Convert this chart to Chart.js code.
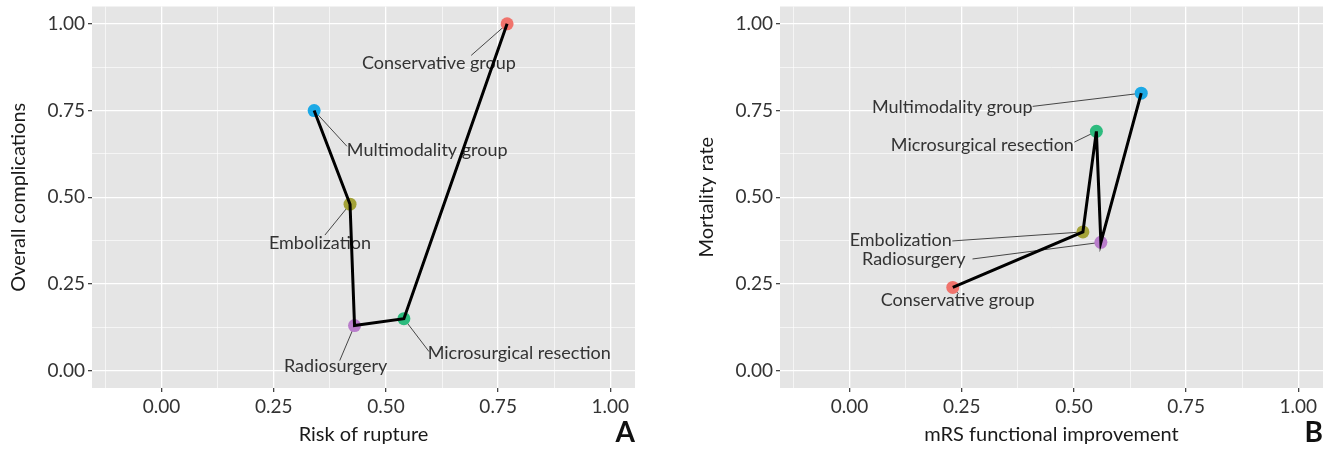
<!DOCTYPE html>
<html>
<head>
<meta charset="utf-8">
<script src="https://cdn.jsdelivr.net/npm/chart.js@4.4.1/dist/chart.umd.min.js"></script>
<style>
  html, body { margin: 0; padding: 0; background: #fff; }
  #wrap { position: relative; width: 1338px; height: 452px; }
  canvas { position: absolute; top: 0; }
  #chartA { left: 0; }
  #chartB { left: 680px; }
</style>
</head>
<body>
<div id="wrap">
  <canvas id="chartA" width="660" height="452"></canvas>
  <canvas id="chartB" width="658" height="452"></canvas>
</div>
<script>
/* Two panels: complications vs rupture, mortality vs mRS */

const groups = ['Conservative group', 'Embolization', 'Microsurgical resection', 'Multimodality group', 'Radiosurgery']
const groupColors = ['#F0736C', '#A3A238', '#2DBB7E', '#1CA9E6', '#B97DCB']

// panel A
const ruptureRisk = [0.77, 0.42, 0.54, 0.34, 0.43]
const complications = [1.00, 0.48, 0.15, 0.75, 0.13]

// panel B
const mrsImprovement = [0.23, 0.52, 0.55, 0.65, 0.56]
const mortality = [0.24, 0.40, 0.69, 0.80, 0.37]

const majorTicks = [0, 0.25, 0.5, 0.75, 1]
const tickLabels = ['0.00', '0.25', '0.50', '0.75', '1.00']
const minorTicksX = [-0.125, 0.125, 0.375, 0.625, 0.875]
const minorTicksY = [0.125, 0.375, 0.625, 0.875]

// repelled label centres and leader ends (data units)
const labelAtA = [[0.618, 0.886], [0.353, 0.368], [0.797, 0.049], [0.592, 0.636], [0.388, 0.012]]
const leaderToA = [[0.690, 0.909], [0.364, 0.391], [0.596, 0.055], [0.413, 0.647], [0.397, 0.029]]
const labelAtB = [[0.241, 0.204], [0.114, 0.377], [0.296, 0.650], [0.229, 0.759], [0.143, 0.322]]
const leaderToB = [[0.243, 0.221], [0.229, 0.374], [0.501, 0.659], [0.408, 0.762], [0.274, 0.322]]

Chart.defaults.font.family = 'Lato, "Open Sans", sans-serif'

const panelDecor = {
  id: 'panelDecor',
  beforeDraw(chart) {
    const { ctx, chartArea: a } = chart
    ctx.save()
    ctx.fillStyle = '#E5E5E5'
    ctx.fillRect(a.left, a.top, a.right - a.left, a.bottom - a.top)
    ctx.restore()
  },
  beforeDatasetsDraw(chart, args, opts) {
    const { ctx, scales: { x, y } } = chart
    const pts = chart.data.datasets[1].data
    ctx.save()
    ctx.strokeStyle = '#333'
    ctx.lineWidth = 0.9
    opts.leaderTo.forEach((p, i) => {
      ctx.beginPath()
      ctx.moveTo(x.getPixelForValue(pts[i].x), y.getPixelForValue(pts[i].y))
      ctx.lineTo(x.getPixelForValue(p[0]), y.getPixelForValue(p[1]))
      ctx.stroke()
    })
    ctx.fillStyle = '#333'
    ctx.font = '18px Lato'
    ctx.textAlign = 'center'
    ctx.textBaseline = 'middle'
    opts.labelAt.forEach((p, i) => {
      ctx.fillText(groups[i], x.getPixelForValue(p[0]), y.getPixelForValue(p[1]))
    })
    ctx.restore()
  },
  afterDraw(chart, args, opts) {
    const { ctx, chartArea: a } = chart
    ctx.save()
    ctx.fillStyle = '#111'
    ctx.font = 'bold 28px Lato'
    ctx.textAlign = 'right'
    ctx.textBaseline = 'alphabetic'
    ctx.fillText(opts.letter, a.right, 442)
    ctx.restore()
  }
}

function axis(kind, title, minor, fitSize, titlePad) {
  const isX = kind === 'x'
  return {
    type: 'linear',
    position: isX ? 'bottom' : 'left',
    min: isX ? -0.155 : -0.05,
    max: isX ? 1.055 : 1.05,
    afterBuildTicks: s => {
      s.ticks = majorTicks.concat(minor).sort((a, b) => a - b).map(v => ({ value: v }))
    },
    afterFit: s => {
      // fixed axis box, no overflow padding for end labels
      if (isX) s.height = fitSize
      else s.width = fitSize
      s.paddingTop = 0
      s.paddingBottom = 0
      s.paddingLeft = 0
      s.paddingRight = 0
    },
    ticks: {
      autoSkip: false,
      maxRotation: 0,
      color: '#333',
      padding: 3,
      font: { size: 19 },
      callback: v => {
        const i = majorTicks.indexOf(v)
        return i < 0 ? '' : tickLabels[i]
      }
    },
    grid: {
      color: '#fff',
      lineWidth: c => majorTicks.includes(c.tick.value) ? 1.3 : 0.6,
      tickColor: c => majorTicks.includes(c.tick.value) ? '#444' : 'rgba(0,0,0,0)',
      tickLength: 4
    },
    border: { display: false },
    title: {
      display: true,
      text: title,
      color: '#1a1a1a',
      font: { size: 20 },
      padding: titlePad
    }
  }
}

function makePanel(id, xs, ys, xTitle, yTitle, yWidth, yTitlePad, rightPad, labelAt, leaderTo, letter) {
  const points = groups.map((g, i) => ({ x: xs[i], y: ys[i] }))
  const path = points.slice().sort((a, b) => a.x - b.x)
  new Chart(document.getElementById(id), {
    type: 'scatter',
    data: {
      datasets: [
        {
          type: 'line',
          data: path,
          borderColor: '#000',
          borderWidth: 3,
          pointRadius: 0,
          tension: 0,
          fill: false,
          order: 0
        },
        {
          data: points,
          pointBackgroundColor: groupColors,
          pointBorderWidth: 0,
          pointRadius: 6.5,
          order: 1
        }
      ]
    },
    options: {
      responsive: false,
      animation: false,
      layout: { padding: { left: 0, right: rightPad, top: 6, bottom: 0 } },
      scales: {
        x: axis('x', xTitle, minorTicksX, 64, { top: 0, bottom: 5 }),
        y: axis('y', yTitle, minorTicksY, yWidth, { top: yTitlePad, bottom: 0 })
      },
      plugins: {
        legend: { display: false },
        tooltip: { enabled: false },
        panelDecor: { labelAt, leaderTo, letter }
      }
    },
    plugins: [panelDecor]
  })
}

makePanel('chartA', ruptureRisk, complications, 'Risk of rupture', 'Overall complications', 92, 7, 25, labelAtA, leaderToA, 'A')
makePanel('chartB', mrsImprovement, mortality, 'mRS functional improvement', 'Mortality rate', 100, 15, 15, labelAtB, leaderToB, 'B')
</script>
</body>
</html>
